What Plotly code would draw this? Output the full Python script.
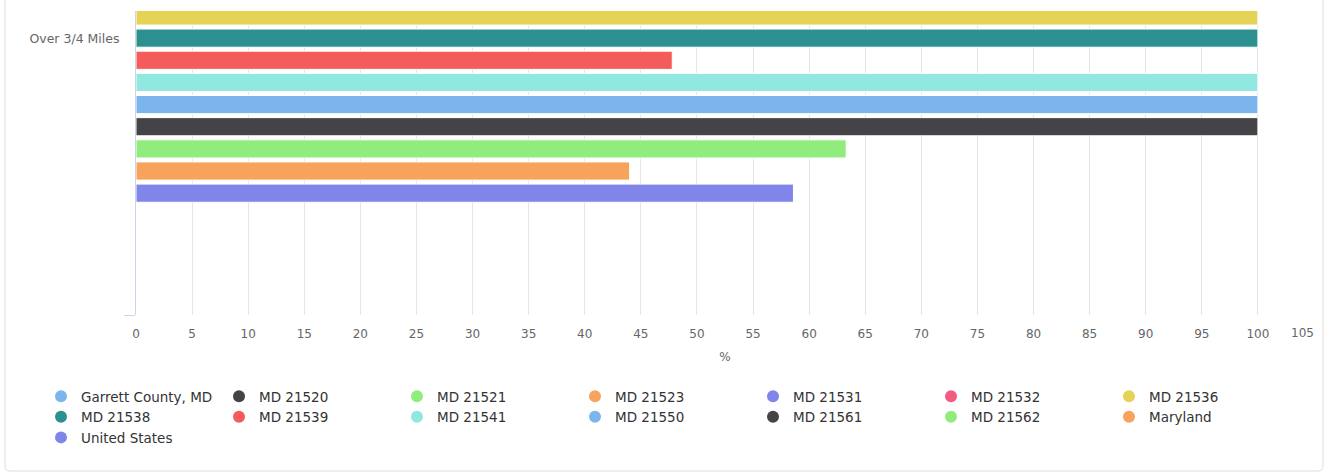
import plotly.graph_objects as go

# ---------------- data ----------------
categories = ["Over 3/4 Miles"]

series_names = [
    "Garrett County, MD", "MD 21520", "MD 21521", "MD 21523", "MD 21531",
    "MD 21532", "MD 21536", "MD 21538", "MD 21539", "MD 21541",
    "MD 21550", "MD 21561", "MD 21562", "Maryland", "United States",
]

# % values for "Over 3/4 Miles"; the first six series lie above the visible
# window of the reference and cannot be read, so they are left empty.
over_3_4_values = [
    None, None, None, None, None,
    None, 100, 100, 47.8, 100,
    100, 100, 63.3, 44.0, 58.6,
]

series_colors = [
    "#7cb5ec", "#434348", "#90ed7d", "#f7a35c", "#8085e9",
    "#f15c80", "#e4d354", "#2b908f", "#f45b5b", "#91e8e1",
    "#7cb5ec", "#434348", "#90ed7d", "#f7a35c", "#8085e9",
]

x_tick_values = list(range(0, 106, 5))
x_tick_labels = [str(v) for v in x_tick_values]

# ---------------- figure ----------------
FONT = "DejaVu Sans"
W, H = 1326, 473
L, T = 136, 11
PLOT_R, PLOT_B = 1314, 315
R, B = W - PLOT_R, H - PLOT_B

fig = go.Figure()

for name, val, col in zip(series_names, over_3_4_values, series_colors):
    fig.add_trace(go.Bar(
        name=name, y=categories, x=[val], orientation="h",
        marker=dict(color=col, line=dict(color="#ffffff", width=1)),
        showlegend=False, legendgroup=name,
    ))

# legend entries with round symbols
for name, col in zip(series_names, series_colors):
    fig.add_trace(go.Scatter(
        name=name, x=[None], y=[None], mode="markers",
        marker=dict(symbol="circle", size=12, color=col),
        showlegend=True, legendgroup=name,
    ))

pw = W - L - R
ph = H - T - B
def px(x_page):
    return (x_page - L) / pw
def py(y_page):
    return (PLOT_B - y_page) / ph

# container box (rounded bottom corners)
x0, x1 = px(5), px(1323)
y_top, y_bot = py(-20), py(471)
rx, ry = 5 / pw, 5 / ph
path = (f"M {x0},{y_top} L {x0},{y_bot + ry} Q {x0},{y_bot} {x0 + rx},{y_bot} "
        f"L {x1 - rx},{y_bot} Q {x1},{y_bot} {x1},{y_bot + ry} L {x1},{y_top}")
fig.add_shape(type="path", xref="paper", yref="paper", path=path,
              line=dict(color="#dedede", width=1), layer="below")

# last tick label is pulled inside the chart, as in the reference
last_tick = x_tick_values[-1]
x_tick_labels[-1] = ""
fig.add_annotation(x=last_tick, xref="x", y=0, yref="paper", yshift=-18,
                   text=str(last_tick), showarrow=False, xanchor="right", yanchor="middle",
                   xshift=2, font=dict(family=FONT, size=12, color="#666666"))

fig.update_layout(
    width=W, height=H,
    margin=dict(l=L, r=R, t=T, b=B, autoexpand=False),
    paper_bgcolor="#ffffff", plot_bgcolor="#ffffff",
    font=dict(family=FONT, size=13, color="#333333"),
    barmode="group", bargap=0.4, bargroupgap=0.18,
    xaxis=dict(
        range=[0, 105], tickmode="array", tickvals=x_tick_values, ticktext=x_tick_labels,
        showgrid=True, gridcolor="#e6e6e6", gridwidth=1,
        zeroline=False, showline=False, ticks="",
        tickfont=dict(family=FONT, size=12, color="#666666"),
        ticklabelstandoff=10,
        title=dict(text="%", font=dict(family=FONT, size=12, color="#666666"), standoff=12),
        fixedrange=True,
    ),
    yaxis=dict(
        type="category", range=[0.5, -0.049],
        showgrid=False, zeroline=False,
        showline=True, linecolor="#ccd6eb", linewidth=1,
        ticks="outside", tickson="boundaries", ticklen=11, tickcolor="#ccd6eb",
        tickfont=dict(family=FONT, size=12.5, color="#666666"),
        ticklabelstandoff=13,
        fixedrange=True,
    ),
    legend=dict(
        orientation="h", x=px(41), y=py(381), xanchor="left", yanchor="top",
        entrywidth=133, entrywidthmode="pixels",
        font=dict(family=FONT, size=13.5, color="#333333"),
        bgcolor="rgba(0,0,0,0)", traceorder="normal",
    ),
)

fig.write_html(
    "out.html",
    config={"displayModeBar": False},
    post_script="document.body.style.margin='0px';document.body.style.overflow='hidden';",
)
